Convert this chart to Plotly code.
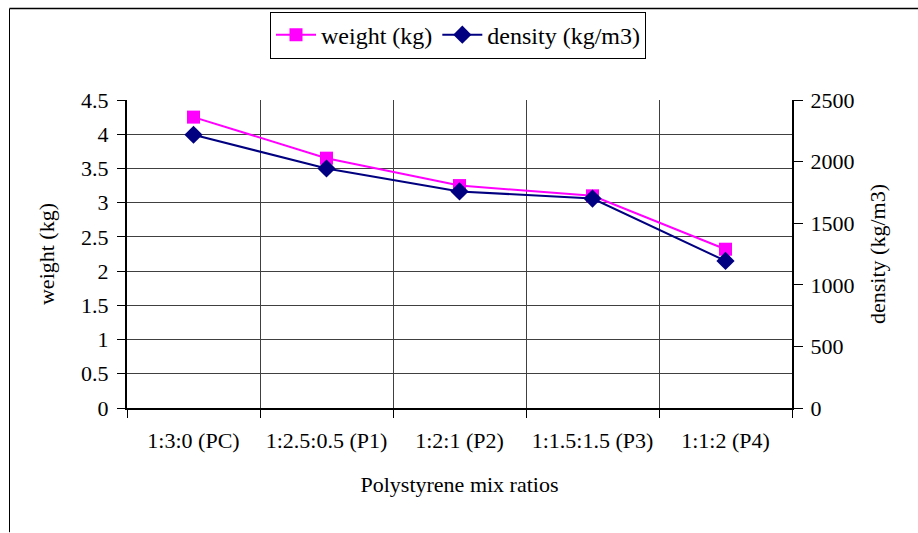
import plotly.graph_objects as go

categories = ["1:3:0 (PC)", "1:2.5:0.5 (P1)", "1:2:1 (P2)", "1:1.5:1.5 (P3)", "1:1:2 (P4)"]
weight_kg = [4.25, 3.65, 3.25, 3.10, 2.32]
density_kgm3 = [2218, 1944, 1758, 1700, 1194]
weight_ticks = [0, 0.5, 1, 1.5, 2, 2.5, 3, 3.5, 4, 4.5]
density_ticks = [0, 500, 1000, 1500, 2000, 2500]

xpos = list(range(len(categories)))
FONT = "Liberation Serif"
FS = 22

fig = go.Figure()
fig.add_trace(go.Scatter(
    x=xpos, y=weight_kg, name="weight (kg)", mode="lines+markers",
    line=dict(color="#ff00ff", width=2),
    marker=dict(symbol="square", size=13, color="#ff00ff"),
    yaxis="y"))
fig.add_trace(go.Scatter(
    x=xpos, y=density_kgm3, name="density (kg/m3)", mode="lines+markers",
    line=dict(color="#000080", width=2),
    marker=dict(symbol="diamond", size=14, color="#000080"),
    yaxis="y2"))

L, R, T, B = 127, 792, 98, 408
PW, PH = R - L, B - T

fig.update_layout(
    width=918, height=533,
    margin=dict(l=L, r=918 - R, t=T, b=533 - B),
    paper_bgcolor="white", plot_bgcolor="white",
    font=dict(family=FONT, size=FS, color="black"),
    showlegend=True,
    legend=dict(orientation="h", x=(458 - L) / PW, y=(B - 9) / PH,
                xanchor="center", yanchor="top",
                bordercolor="black", borderwidth=1, bgcolor="white",
                font=dict(family=FONT, size=24), itemwidth=40, tracegroupgap=0),
    xaxis=dict(range=[-0.5, 4.5], tickvals=xpos, ticktext=categories,
               showgrid=False, ticks="", showline=True, linecolor="black", linewidth=2,
               zeroline=False, ticklabelstandoff=12,
               minor=dict(tick0=-0.5, dtick=1, showgrid=True, gridcolor="#404040",
                          gridwidth=1, ticks="outside", ticklen=8, tickcolor="black"),
               title=dict(text="Polystyrene mix ratios", standoff=24,
                          font=dict(family=FONT, size=FS))),
    yaxis=dict(range=[0, 4.5], tickvals=weight_ticks,
               ticktext=[f"{v:g}" for v in weight_ticks],
               showgrid=True, gridcolor="#404040", gridwidth=1,
               ticks="outside", ticklen=8, tickcolor="black", ticklabelstandoff=4,
               showline=True, linecolor="black", linewidth=2, zeroline=False,
               title=dict(text="weight (kg)", standoff=20, font=dict(family=FONT, size=FS))),
    yaxis2=dict(range=[0, 2500], tickvals=density_ticks,
                ticktext=[str(v) for v in density_ticks],
                overlaying="y", side="right", showgrid=False,
                ticks="outside", ticklen=9, tickcolor="black", ticklabelstandoff=3,
                showline=True, linecolor="black", linewidth=2, zeroline=False,
                title=dict(text="density (kg/m3)", standoff=16, font=dict(family=FONT, size=FS))),
    shapes=[
        dict(type="line", xref="paper", yref="paper",
             x0=(9.5 - L) / PW, x1=(918 - L) / PW,
             y0=(B - 6) / PH, y1=(B - 6) / PH,
             line=dict(color="black", width=1.5)),
        dict(type="line", xref="paper", yref="paper",
             x0=(9.5 - L) / PW, x1=(9.5 - L) / PW,
             y0=(B - 533) / PH, y1=(B - 6) / PH,
             line=dict(color="black", width=1)),
    ],
)

fig.write_html("out.html", config={"displayModeBar": False},
               post_script="document.body.style.margin='0';document.body.style.padding='0';")
